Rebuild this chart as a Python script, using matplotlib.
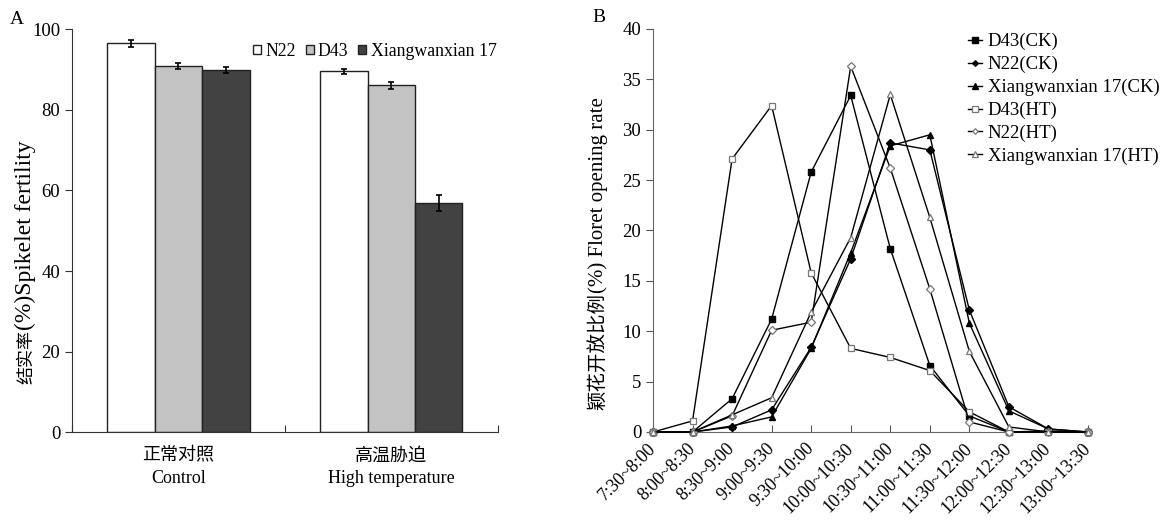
import matplotlib
matplotlib.use("Agg")
import matplotlib.pyplot as plt
import matplotlib.transforms as mtransforms
import numpy as np

# ---------------- Data ----------------
groups_cn = ["正常对照", "高温胁迫"]
groups_en = ["Control", "High temperature"]
varieties = ["N22", "D43", "Xiangwanxian 17"]
fert_n22 = [96.5, 89.6]
fert_d43 = [90.9, 86.1]
fert_xwx = [89.9, 56.9]
err_n22 = [0.8, 0.6]
err_d43 = [0.7, 0.9]
err_xwx = [0.8, 1.9]

periods = ["7:30~8:00", "8:00~8:30", "8:30~9:00", "9:00~9:30", "9:30~10:00",
           "10:00~10:30", "10:30~11:00", "11:00~11:30", "11:30~12:00",
           "12:00~12:30", "12:30~13:00", "13:00~13:30"]
d43_ck = [0, 0, 3.3, 11.2, 25.8, 33.4, 18.2, 6.6, 1.6, 0, 0.1, 0]
n22_ck = [0, 0, 0.5, 2.2, 8.4, 17.2, 28.7, 28.0, 12.1, 2.5, 0.3, 0]
xwx_ck = [0, 0, 0.6, 1.5, 8.3, 17.8, 28.4, 29.5, 10.8, 2.1, 0.3, 0]
d43_ht = [0, 1.1, 27.1, 32.4, 15.8, 8.3, 7.4, 6.1, 2.0, 0, 0, 0]
n22_ht = [0, 0, 1.6, 10.1, 10.9, 36.3, 26.2, 14.2, 1.0, 0, 0, 0]
xwx_ht = [0, 0, 1.7, 3.4, 11.9, 19.3, 33.5, 21.3, 8.0, 0.5, 0, 0]

series_labels = ["D43(CK)", "N22(CK)", "Xiangwanxian 17(CK)",
                 "D43(HT)", "N22(HT)", "Xiangwanxian 17(HT)"]

SERIF = ["Liberation Serif", "Noto Sans CJK SC", "DejaVu Sans"]
CJK = ["Noto Sans CJK SC", "Liberation Serif", "DejaVu Sans"]
plt.rcParams["font.family"] = SERIF
plt.rcParams["axes.unicode_minus"] = False

W, H = 1173, 522
fig = plt.figure(figsize=(W/100, H/100), dpi=100)


def px(x, y):
    return x / W, 1 - y / H


def mixed_ylabel(xb, ysplit, cn, cn_size, en, en_size):
    # Chinese part reads upward and ends at ysplit; English part starts there
    fx, fy = px(xb, ysplit)
    fig.text(fx, fy, cn, rotation=90, rotation_mode="anchor", ha="right",
             va="baseline", fontsize=cn_size, family=CJK)
    fig.text(fx, fy, en, rotation=90, rotation_mode="anchor", ha="left",
             va="baseline", fontsize=en_size, family=SERIF)


# ---------------- Panel A ----------------
l, b = px(72, 432.3)
axA = fig.add_axes([l, b, (497.7-72)/W, (432.3-29.3)/H])
x = np.arange(len(groups_cn))
w = 0.223
cols = ["white", "#c3c3c3", "#424242"]
vals = [fert_n22, fert_d43, fert_xwx]
errs = [err_n22, err_d43, err_xwx]
for i in range(3):
    axA.bar(x + (i-1)*w, vals[i], w, color=cols[i], edgecolor="#222222",
            linewidth=1.0, label=varieties[i], zorder=2)
    axA.errorbar(x + (i-1)*w, vals[i], yerr=errs[i], fmt="none",
                 ecolor="black", elinewidth=1.2, capsize=2, capthick=1.2, zorder=3)
axA.set_xlim(-0.5, 1.5)
axA.set_ylim(0, 100)
axA.set_yticks(range(0, 101, 20))
axA.set_xticks([-0.5, 0.5, 1.5])
axA.set_xticklabels([])
axA.tick_params(axis="x", direction="in", length=5, color="#333333")
axA.tick_params(axis="y", direction="out", length=5, labelsize=13.5, color="#333333")
for s in ["top", "right"]:
    axA.spines[s].set_visible(False)
for s in ["left", "bottom"]:
    axA.spines[s].set_color("#333333")
for xi, cn, en in zip(x, groups_cn, groups_en):
    axA.text(xi, -5.7, cn, ha="center", va="center", fontsize=13, family=CJK)
    axA.text(xi, -11.4, en, ha="center", va="center", fontsize=13)
mixed_ylabel(31, 330, "结实率", 13, "(%)Spikelet fertility", 17)
axA.legend(loc="upper right", bbox_to_anchor=(1.006, 0.975), ncol=3, frameon=False,
           fontsize=12.8, handlelength=0.45, handleheight=0.45, handletextpad=0.25,
           columnspacing=0.55, borderaxespad=0.0, borderpad=0.2)
fig.text(*px(10, 20), "A", fontsize=14, ha="left", va="center")

# ---------------- Panel B ----------------
l, b = px(653, 432)
axB = fig.add_axes([l, b, (1088-653)/W, (432-29)/H])
xb = np.arange(len(periods))
series = [d43_ck, n22_ck, xwx_ck, d43_ht, n22_ht, xwx_ht]
markers = ["s", "D", "^", "s", "D", "^"]
msizes = [5, 3.8, 5, 5, 3.8, 5]
filled = [True, True, True, False, False, False]
for s, m, ms, f, lab in zip(series, markers, msizes, filled, series_labels):
    if f:
        axB.plot(xb, s, color="black", lw=1.0, marker=m, ms=ms,
                 mfc="black", mec="black", label=lab, clip_on=False, zorder=3)
    else:
        axB.plot(xb, s, color="black", lw=1.0, marker=m, ms=ms,
                 mfc="white", mec="#777777", mew=0.9, label=lab, clip_on=False, zorder=3)
axB.set_xlim(0, 11)
axB.set_ylim(0, 40)
axB.set_yticks(range(0, 41, 5))
axB.set_xticks(xb)
axB.set_xticklabels(periods, rotation=45, ha="right", va="center",
                    rotation_mode="anchor", fontsize=13)
shift = mtransforms.ScaledTranslation(4/100, 0, fig.dpi_scale_trans)
for lab in axB.get_xticklabels():
    lab.set_transform(lab.get_transform() + shift)
axB.tick_params(axis="x", direction="in", length=5, pad=10, color="#555555")
axB.tick_params(axis="y", direction="out", length=5, labelsize=13.5, color="#555555")
for s in ["top", "right"]:
    axB.spines[s].set_visible(False)
for s in ["left", "bottom"]:
    axB.spines[s].set_color("#666666")
mixed_ylabel(603, 293, "颖花开放比例", 14, "(%) Floret opening rate", 15)
lx, ly = px(968, 33)
axB.legend(loc="upper left", bbox_to_anchor=(lx, ly), bbox_transform=fig.transFigure,
           frameon=False, fontsize=13.5, handlelength=0.75, handletextpad=0.3,
           labelspacing=0.3, markerscale=0.75, borderpad=0.0, borderaxespad=0.0)
fig.text(*px(592, 17), "B", fontsize=14, ha="left", va="center")

fig.savefig("out.png", dpi=100)
